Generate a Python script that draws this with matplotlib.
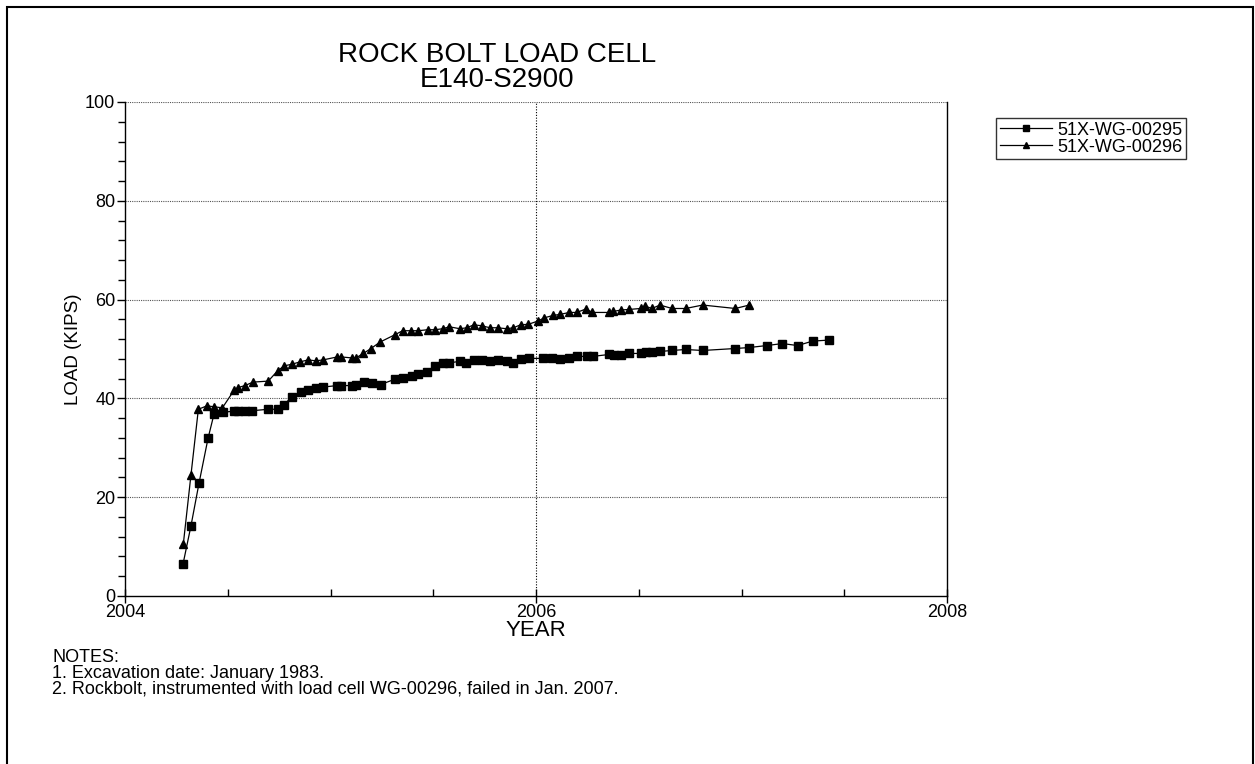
"""
Rock bolt load cell E140-S2900: carga (kips) contra tiempo para dos celdas.
"""

import matplotlib
matplotlib.use('Agg')
from matplotlib import pyplot as plt
from matplotlib.patches import Rectangle
from matplotlib.ticker import MultipleLocator, FixedLocator

plt.rcParams['font.family'] = ['Liberation Sans', 'DejaVu Sans']

# --- Datos (año decimal, kips) ---
years_295 = [2004.282, 2004.321, 2004.360, 2004.404, 2004.433, 2004.475, 2004.528,
             2004.551, 2004.584, 2004.617, 2004.697, 2004.743, 2004.774, 2004.811,
             2004.855, 2004.889, 2004.928, 2004.965, 2005.033, 2005.050, 2005.103,
             2005.124, 2005.163, 2005.200, 2005.244, 2005.314, 2005.351, 2005.395,
             2005.427, 2005.468, 2005.508, 2005.549, 2005.578, 2005.630, 2005.659,
             2005.698, 2005.736, 2005.776, 2005.813, 2005.857, 2005.886, 2005.925,
             2005.967, 2006.035, 2006.080, 2006.117, 2006.162, 2006.201, 2006.247,
             2006.276, 2006.357, 2006.380, 2006.414, 2006.451, 2006.509, 2006.535,
             2006.564, 2006.603, 2006.662, 2006.728, 2006.811, 2006.970, 2007.038,
             2007.123, 2007.199, 2007.273, 2007.346, 2007.424]
load_295 = [6.4, 14.2, 22.8, 31.9, 36.8, 37.2, 37.4,
            37.5, 37.5, 37.5, 37.8, 37.8, 38.7, 40.3,
            41.2, 41.8, 42.1, 42.3, 42.6, 42.6, 42.6,
            42.7, 43.4, 43.1, 42.8, 43.9, 44.1, 44.5,
            45.0, 45.3, 46.5, 47.2, 47.2, 47.5, 47.2,
            47.7, 47.7, 47.5, 47.7, 47.5, 47.2, 47.9,
            48.1, 48.1, 48.1, 47.9, 48.1, 48.5, 48.5,
            48.5, 48.9, 48.7, 48.7, 49.1, 49.1, 49.3,
            49.3, 49.5, 49.7, 49.9, 49.7, 50.1, 50.3,
            50.7, 51.1, 50.7, 51.6, 51.8]

years_296 = [2004.284, 2004.321, 2004.357, 2004.399, 2004.433, 2004.474, 2004.530,
             2004.551, 2004.584, 2004.623, 2004.697, 2004.743, 2004.775, 2004.811,
             2004.852, 2004.892, 2004.928, 2004.965, 2005.033, 2005.050, 2005.103,
             2005.124, 2005.160, 2005.197, 2005.241, 2005.314, 2005.351, 2005.392,
             2005.427, 2005.473, 2005.508, 2005.546, 2005.578, 2005.630, 2005.663,
             2005.698, 2005.736, 2005.776, 2005.813, 2005.857, 2005.890, 2005.925,
             2005.963, 2006.012, 2006.039, 2006.084, 2006.117, 2006.162, 2006.198,
             2006.243, 2006.274, 2006.357, 2006.376, 2006.414, 2006.451, 2006.509,
             2006.529, 2006.564, 2006.603, 2006.662, 2006.728, 2006.811, 2006.970,
             2007.038]
load_296 = [10.6, 24.5, 37.8, 38.5, 38.3, 38.1, 41.6,
            42.2, 42.6, 43.3, 43.5, 45.6, 46.6, 46.9,
            47.4, 47.8, 47.6, 47.8, 48.4, 48.4, 48.2,
            48.2, 49.1, 50.1, 51.4, 52.9, 53.7, 53.7,
            53.7, 53.9, 53.9, 54.1, 54.5, 54.1, 54.3,
            54.9, 54.7, 54.3, 54.3, 54.1, 54.3, 54.9,
            55.0, 55.7, 56.3, 56.8, 57.0, 57.4, 57.4,
            58.1, 57.4, 57.4, 57.6, 57.9, 58.0, 58.2,
            58.7, 58.2, 58.9, 58.2, 58.2, 58.9, 58.2,
            58.9]

series_names = ['51X-WG-00295', '51X-WG-00296']
notes = ['NOTES:',
         '1. Excavation date: January 1983.',
         '2. Rockbolt, instrumented with load cell WG-00296, failed in Jan. 2007.']

W, H = 1255, 764
fig = plt.figure(figsize=(W / 100, H / 100), dpi=100)
ax = fig.add_axes([125 / W, 1 - 596 / H, (947 - 125) / W, (596 - 102) / H])

ax.plot(years_295, load_295, color='black', lw=0.9, marker='s', ms=5.8,
        label=series_names[0])
ax.plot(years_296, load_296, color='black', lw=0.9, marker='^', ms=5.2,
        label=series_names[1])

ax.set_xlim(2004, 2008)
ax.set_ylim(0, 100)
ax.xaxis.set_major_locator(FixedLocator([2004, 2006, 2008]))
ax.xaxis.set_minor_locator(MultipleLocator(0.5))
ax.yaxis.set_major_locator(MultipleLocator(20))
ax.yaxis.set_minor_locator(MultipleLocator(4))
ax.tick_params(axis='x', which='major', direction='inout', length=10, width=1,
               labelsize=13, pad=1)
ax.tick_params(axis='x', which='minor', direction='in', length=5, width=1)
ax.tick_params(axis='y', which='major', direction='out', length=6, width=1,
               labelsize=13, pad=1)
ax.tick_params(axis='y', which='minor', direction='out', length=5, width=1)

for v in [20, 40, 60, 80, 100]:
    ax.axhline(v, color='#555555', lw=0.8, ls=(0, (1, 1)), zorder=0)
ax.axvline(2006, color='black', lw=0.8, ls=(0, (1, 1.5)), zorder=0)
ax.spines['top'].set_visible(False)
for s in ['left', 'right', 'bottom']:
    ax.spines[s].set_linewidth(1)

ax.set_xlabel('YEAR', fontsize=16, labelpad=-1)
ax.set_ylabel('LOAD (KIPS)', fontsize=13.5, labelpad=2)

fig.text(497 / W, 1 - 55 / H, 'ROCK BOLT LOAD CELL', ha='center', va='center',
         fontsize=20)
fig.text(497 / W, 1 - 80 / H, 'E140-S2900', ha='center', va='center', fontsize=20)

for i, line in enumerate(notes):
    fig.text(52 / W, 1 - (657 + 16 * i) / H, line, ha='left', va='center',
             fontsize=13)

leg = fig.legend(loc='upper left', bbox_to_anchor=(996 / W, 1 - 118 / H),
                 fontsize=13, frameon=True, fancybox=False, handlelength=2.9,
                 handletextpad=0.3, borderpad=0.2, labelspacing=0.0,
                 borderaxespad=0, markerscale=0.8)
leg.get_frame().set_edgecolor('black')
leg.get_frame().set_linewidth(1)

# marco exterior de la página
fig.patches.append(Rectangle((7 / W, -0.05), (1253 - 7) / W, 1.05 - 7 / H,
                             transform=fig.transFigure, fill=False,
                             edgecolor='black', lw=1.5))

fig.savefig('out.png', dpi=100)
